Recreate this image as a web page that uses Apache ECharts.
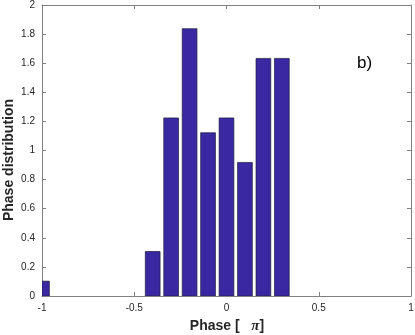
<!DOCTYPE html>
<html><head><meta charset="utf-8">
<script src="https://cdn.jsdelivr.net/npm/echarts@6/dist/echarts.min.js"></script>
<style>html,body{margin:0;padding:0;background:#fff}#c{width:415px;height:335px}</style>
</head><body><div id="c"></div>
<script>
const phases = [-1, -0.4, -0.3, -0.2, -0.1, 0, 0.1, 0.2, 0.3];
const density = [0.102, 0.306, 1.224, 1.837, 1.122, 1.224, 0.918, 1.633, 1.633];
const xTicks = [-1, -0.5, 0, 0.5, 1];
const yTicks = [0, 0.2, 0.4, 0.6, 0.8, 1, 1.2, 1.4, 1.6, 1.8, 2];
const binWidth = 0.08;

const chart = echarts.init(document.getElementById('c'), null, {renderer: 'canvas'});
const axisLine = {show: true, onZero: false, lineStyle: {color: '#808080', width: 1}};
const tickIn = {show: true, inside: true, length: 4, lineStyle: {color: '#808080'}};
const lbl = {color: '#262626', fontFamily: 'Liberation Sans', fontSize: 10};
chart.setOption({
  animation: false,
  grid: {left: 42, right: 4, top: 5, bottom: 39, containLabel: false, outerBoundsMode: 'none'},
  xAxis: [{
    type: 'value', min: -1, max: 1, interval: 0.5,
    axisLine: axisLine, axisTick: tickIn, splitLine: {show: false},
    axisLabel: Object.assign({margin: 7, formatter: v => String(v)}, lbl)
  }, {
    type: 'value', min: -1, max: 1, interval: 0.5, position: 'top',
    axisLine: axisLine, axisTick: tickIn, axisLabel: {show: false}, splitLine: {show: false}
  }],
  yAxis: [{
    type: 'value', min: 0, max: 2, interval: 0.2,
    axisLine: axisLine, axisTick: tickIn, splitLine: {show: false},
    axisLabel: Object.assign({margin: 7, formatter: v => String(+v.toFixed(1))}, lbl)
  }, {
    type: 'value', min: 0, max: 2, interval: 0.2, position: 'right',
    axisLine: axisLine, axisTick: tickIn, axisLabel: {show: false}, splitLine: {show: false}
  }],
  series: [{
    type: 'custom', xAxisIndex: 0, yAxisIndex: 0, clip: true,
    data: phases.map((p, i) => [p, density[i]]),
    renderItem: function (params, api) {
      const x = api.value(0), y = api.value(1);
      const a = api.coord([x - binWidth / 2, y]);
      const b = api.coord([x + binWidth / 2, 0]);
      const cs = params.coordSys;
      const rect = echarts.graphic.clipRectByRect(
        {x: a[0], y: a[1], width: b[0] - a[0], height: b[1] - a[1]},
        {x: cs.x, y: cs.y, width: cs.width, height: cs.height});
      return rect && {
        type: 'rect', shape: rect,
        style: {fill: '#3a28a3', stroke: '#1e1e3a', lineWidth: 0.7}
      };
    }
  }],
  graphic: [{
    type: 'text', x: 357, y: 55,
    style: {text: 'b)', fontFamily: 'Liberation Sans', fontSize: 17, fill: '#000'}
  }, {
    type: 'text', x: 227, y: 326,
    style: {
      text: 'Phase [   {p|π}]', align: 'center', verticalAlign: 'middle',
      fontFamily: 'Liberation Sans', fontSize: 14, fontWeight: 'bold', fill: '#262626',
      rich: {p: {fontFamily: 'Liberation Serif', fontStyle: 'italic', fontWeight: 'bold', fontSize: 15, fill: '#262626'}}
    }
  }, {
    type: 'text', x: 9, y: 160, rotation: Math.PI / 2,
    style: {
      text: 'Phase distribution', align: 'center', verticalAlign: 'middle',
      fontFamily: 'Liberation Sans', fontSize: 14, fontWeight: 'bold', fill: '#262626'
    }
  }]
});
</script></body></html>
